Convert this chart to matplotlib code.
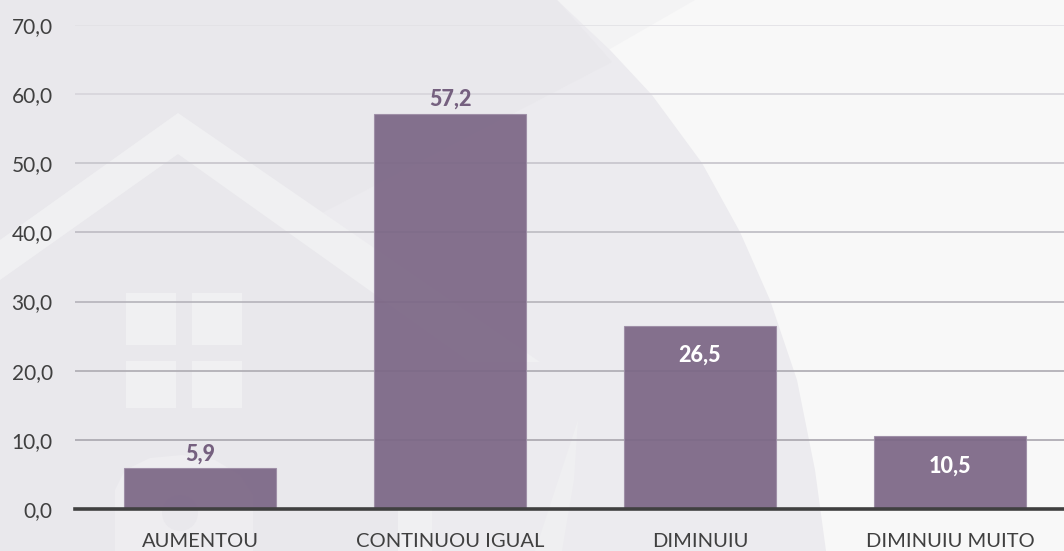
import matplotlib
matplotlib.use("Agg")
import matplotlib.pyplot as plt
from matplotlib.patches import Polygon, Ellipse

W, H = 1064, 551

categories = ["AUMENTOU", "CONTINUOU IGUAL", "DIMINUIU", "DIMINUIU MUITO"]
values = [5.9, 57.2, 26.5, 10.5]
value_labels = ["5,9", "57,2", "26,5", "10,5"]
yticks = [0, 10, 20, 30, 40, 50, 60, 70]
ytick_labels = ["0,0", "10,0", "20,0", "30,0", "40,0", "50,0", "60,0", "70,0"]
grid_colors = ["#b5b2b8", "#a9a6ae", "#adabb2", "#b5b3ba", "#bdbbc2", "#c6c4cb", "#d6d4da", "#e2e1e5"]

plt.rcParams["font.family"] = ["Lato", "DejaVu Sans"]


def px(points):
    # image pixels to figure fractions
    return [(x / W, 1 - y / H) for x, y in points]


def deco(points, color):
    fig.add_artist(Polygon(px(points), closed=True, fc=color, ec="none", zorder=0))


fig = plt.figure(figsize=(W / 100, H / 100), dpi=100, facecolor="#f8f8f8")

# background decoration, back to front
deco([(557, 0), (695, 0), (530, 95), (612, 72)], "#f3f3f4")
deco([(557, 0), (610, 50), (652, 95), (702, 163), (740, 232), (770, 300), (797, 380), (815, 470), (826, 551), (0, 551), (0, 0)], "#ecebef")
deco([(0, 0), (557, 0), (612, 62), (322, 213), (178, 113), (0, 240)], "#e9e8ec")
deco([(0, 280), (178, 154), (400, 308), (400, 551), (0, 551)], "#e9e8ec")
deco([(0, 240), (178, 113), (540, 362), (470, 362), (178, 154), (0, 280)], "#f0f0f2")
for x0, y0, x1, y1 in [(126, 293, 176, 345), (192, 293, 242, 345), (126, 361, 176, 408), (192, 361, 242, 408)]:
    deco([(x0, y0), (x1, y0), (x1, y1), (x0, y1)], "#f0f0f2")

# house door shape and lower wedge
deco([(115, 551), (115, 490), (125, 470), (150, 458), (182, 455), (215, 460), (240, 475), (253, 495), (253, 551)], "#eeedf0")
fig.add_artist(Ellipse((180 / W, 1 - 513 / H), 36 / W, 36 / H, fc="#e9e8ec", ec="none", zorder=0))
deco([(398, 509), (432, 509), (432, 551), (398, 551)], "#f0f0f2")
deco([(578, 420), (574, 480), (562, 551), (535, 551), (555, 490)], "#efeff1")

ax = fig.add_axes([75 / W, 1 - 509 / H, 1000 / W, 484 / H])
ax.patch.set_alpha(0)
ax.set_xlim(-0.5, 3.5)
ax.set_ylim(0, 70)

for y, c in zip(yticks, grid_colors):
    if y > 0:
        ax.axhline(y, color=c, lw=1.2, zorder=1)

xpos = list(range(len(categories)))
ax.bar(xpos, values, width=0.61, color="#7b6685", alpha=0.92, edgecolor="#9d8da6", linewidth=0.8, zorder=2)

for i, (v, lab) in enumerate(zip(values, value_labels)):
    if v > 50 or v < 10:
        # outside the bar
        ax.text(i, v + 2.1, lab, ha="center", va="center", color="#75607f", fontsize=15.5, fontweight="black", zorder=3)
    else:
        ax.text(i, v - 4.3, lab, ha="center", va="center", color="white", fontsize=15.5, fontweight="black", zorder=3)

ax.set_xticks(xpos)
ax.set_xticklabels(categories, fontsize=14.5, color="#404040")
ax.set_yticks(yticks)
ax.set_yticklabels(ytick_labels, fontsize=15, color="#404040")
ax.tick_params(axis="both", length=0)
ax.tick_params(axis="x", pad=17)
ax.tick_params(axis="y", pad=16)
for s in ["top", "right", "left"]:
    ax.spines[s].set_visible(False)
ax.spines["bottom"].set_color("#404040")
ax.spines["bottom"].set_linewidth(2.6)
ax.spines["bottom"].set_zorder(4)

fig.savefig("out.png", dpi=100, facecolor=fig.get_facecolor())
